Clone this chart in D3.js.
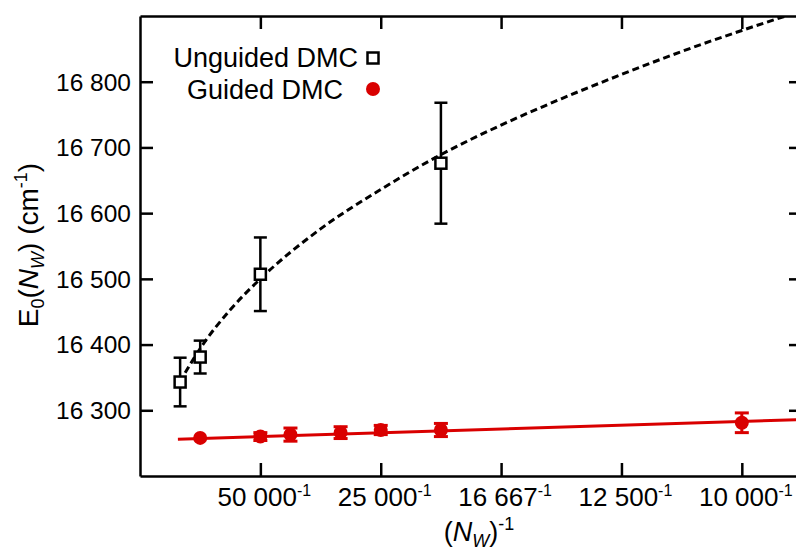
<!DOCTYPE html>
<html><head><meta charset="utf-8">
<script src="https://cdn.jsdelivr.net/npm/d3@7"></script>
<style>
body{margin:0;background:#fff;}
text{font-family:"Liberation Sans",Arial,Helvetica,sans-serif;fill:#000;}
</style></head>
<body><svg id="c" width="796" height="550"></svg>
<script>
// ---- data ----
const xTickN = [50000, 25000, 16667, 12500, 10000];
const xTickLabels = ["50 000", "25 000", "16 667", "12 500", "10 000"];
const yTicks = [16300, 16400, 16500, 16600, 16700, 16800];
const yTickLabels = ["16 300", "16 400", "16 500", "16 600", "16 700", "16 800"];

const unguidedN = [150000, 100000, 50000, 20000];
const unguidedE = [16343, 16381, 16507, 16676];
const unguidedErr = [37, 25, 56, 92];

const guidedN = [100000, 50000, 40000, 30000, 25000, 20000, 10000];
const guidedE = [16258, 16260, 16263, 16266, 16270, 16270, 16281];
const guidedErr = [0, 6, 10, 9, 7, 10, 15];

// dashed fit curve for unguided DMC, x = 1/N
const unguidedFitX = [0.75e-5, 1.0e-5, 1.5e-5, 2.0e-5, 3.0e-5, 4.0e-5, 5.0e-5, 6.0e-5, 7.0e-5, 8.0e-5, 9.0e-5, 10.0e-5, 11.0e-5];
const unguidedFitE = [16357, 16394, 16453, 16500, 16576, 16636, 16689, 16734, 16774, 16811, 16846, 16878, 16908];
// solid fit line for guided DMC
const guidedFitX = [0.63e-5, 11.0e-5];
const guidedFitE = [16256, 16286];

// ---- layout ----
const L = 140, R = 802, T = 16, B = 476;
const svg = d3.select("#c");
const x = d3.scaleLinear().domain([0, 1.1e-4]).range([L, R]);
const y = d3.scaleLinear().domain([16200, 16900]).range([B, T]);
const red = "#d90000";

svg.append("defs").append("clipPath").attr("id","clip")
  .append("rect").attr("x",L).attr("y",T).attr("width",R-L).attr("height",B-T);

const xTickVals = xTickN.map(n => 1/n);
const tickLen = 13;
function axisStyle(g){
  g.select(".domain").attr("stroke","#000").attr("stroke-width",2.5);
  g.selectAll(".tick line").attr("stroke","#000").attr("stroke-width",2.5);
}
const gB = svg.append("g").attr("transform",`translate(0,${B})`)
  .call(d3.axisBottom(x).tickValues(xTickVals).tickSizeInner(-tickLen).tickSizeOuter(0).tickFormat(""));
axisStyle(gB);
const gT = svg.append("g").attr("transform",`translate(0,${T})`)
  .call(d3.axisTop(x).tickValues(xTickVals).tickSizeInner(-tickLen).tickSizeOuter(0).tickFormat(""));
axisStyle(gT);
const gL = svg.append("g").attr("transform",`translate(${L},0)`)
  .call(d3.axisLeft(y).tickValues(yTicks).tickSizeInner(-tickLen).tickSizeOuter(0).tickFormat(""));
axisStyle(gL);
const gR = svg.append("g").attr("transform",`translate(${R},0)`)
  .call(d3.axisRight(y).tickValues(yTicks).tickSizeInner(-tickLen).tickSizeOuter(0).tickFormat(""));
axisStyle(gR);

// tick labels
yTicks.forEach((v,i)=>{
  svg.append("text").attr("x",L-9).attr("y",y(v)).attr("dy","0.36em")
    .attr("text-anchor","end").attr("font-size",24.5).text(yTickLabels[i]);
});
xTickVals.forEach((v,i)=>{
  const t = svg.append("text").attr("x",x(v)+4).attr("y",B+30)
    .attr("text-anchor","middle").attr("font-size",26);
  t.append("tspan").text(xTickLabels[i]);
  t.append("tspan").attr("dy",-10).attr("font-size",16).text("-1");
});

// axis titles
const xt = svg.append("text").attr("x",479).attr("y",541).attr("text-anchor","middle").attr("font-size",27);
xt.append("tspan").text("(");
xt.append("tspan").attr("font-style","italic").text("N");
xt.append("tspan").attr("font-style","italic").attr("font-size",18).attr("dy",6).text("W");
xt.append("tspan").attr("dy",-6).text(")");
xt.append("tspan").attr("dy",-11).attr("font-size",18).text("-1");

const yt = svg.append("text").attr("transform",`translate(38,245) rotate(-90)`)
  .attr("text-anchor","middle").attr("font-size",28);
yt.append("tspan").text("E");
yt.append("tspan").attr("font-size",18).attr("dy",6).text("0");
yt.append("tspan").attr("dy",-6).text("(");
yt.append("tspan").attr("font-style","italic").text("N");
yt.append("tspan").attr("font-style","italic").attr("font-size",18).attr("dy",6).text("W");
yt.append("tspan").attr("dy",-6).text(") (cm");
yt.append("tspan").attr("dy",-11).attr("font-size",18).text("-1");
yt.append("tspan").attr("dy",11).text(")");

// fit lines
const plot = svg.append("g").attr("clip-path","url(#clip)");
const line = d3.line().x(d=>x(d[0])).y(d=>y(d[1])).curve(d3.curveMonotoneX);
plot.append("path").datum(unguidedFitX.map((v,i)=>[v,unguidedFitE[i]]))
  .attr("d",line).attr("fill","none").attr("stroke","#000").attr("stroke-width",3)
  .attr("stroke-dasharray","7,4");
plot.append("path").datum(guidedFitX.map((v,i)=>[v,guidedFitE[i]]))
  .attr("d",d3.line().x(d=>x(d[0])).y(d=>y(d[1]))).attr("fill","none").attr("stroke",red).attr("stroke-width",3);

// error bars + markers: guided
guidedN.forEach((n,i)=>{
  const cx = x(1/n), e = guidedE[i], er = guidedErr[i];
  if (er > 0) {
    const g = svg.append("g").attr("stroke",red).attr("stroke-width",3);
    g.append("line").attr("x1",cx).attr("x2",cx).attr("y1",y(e-er)).attr("y2",y(e+er));
    g.append("line").attr("x1",cx-7).attr("x2",cx+7).attr("y1",y(e-er)).attr("y2",y(e-er));
    g.append("line").attr("x1",cx-7).attr("x2",cx+7).attr("y1",y(e+er)).attr("y2",y(e+er));
  }
  svg.append("circle").attr("cx",cx).attr("cy",y(e)).attr("r",7).attr("fill",red);
});
// unguided
unguidedN.forEach((n,i)=>{
  const cx = x(1/n), e = unguidedE[i], er = unguidedErr[i];
  const g = svg.append("g").attr("stroke","#000").attr("stroke-width",2.5);
  g.append("line").attr("x1",cx).attr("x2",cx).attr("y1",y(e-er)).attr("y2",y(e+er));
  g.append("line").attr("x1",cx-6.5).attr("x2",cx+6.5).attr("y1",y(e-er)).attr("y2",y(e-er));
  g.append("line").attr("x1",cx-6.5).attr("x2",cx+6.5).attr("y1",y(e+er)).attr("y2",y(e+er));
  svg.append("rect").attr("x",cx-5.5).attr("y",y(e)-5.5).attr("width",11).attr("height",11)
    .attr("fill","#fff").attr("stroke","#000").attr("stroke-width",2.5);
});

// legend
svg.append("text").attr("x",358).attr("y",67).attr("text-anchor","end").attr("font-size",27).text("Unguided DMC");
svg.append("rect").attr("x",373-5.5).attr("y",58-5.5).attr("width",11).attr("height",11)
  .attr("fill","#fff").attr("stroke","#000").attr("stroke-width",2.5);
svg.append("text").attr("x",343).attr("y",99).attr("text-anchor","end").attr("font-size",27).text("Guided DMC");
svg.append("circle").attr("cx",373).attr("cy",89).attr("r",7).attr("fill",red);
</script></body></html>
